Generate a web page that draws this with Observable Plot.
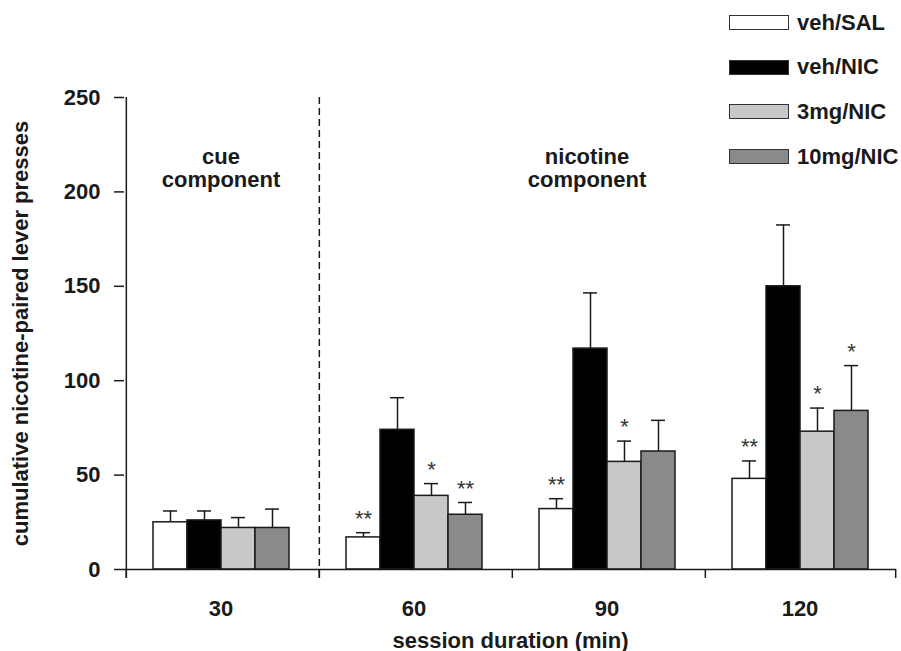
<!DOCTYPE html>
<html>
<head>
<meta charset="utf-8">
<script src="https://cdn.jsdelivr.net/npm/d3@7"></script>
<script src="https://cdn.jsdelivr.net/npm/@observablehq/plot@0.6"></script>
<style>
  body { margin: 0; background: #fff; }
  #wrap { position: relative; width: 901px; height: 651px; overflow: hidden; }
  .legend { position: absolute; left: 729px; top: 15px; font: bold 22px "Liberation Sans", Arial, sans-serif; color: #1a1a1a; }
  .legend .row { display: flex; align-items: center; height: 15px; margin-bottom: 29.7px; white-space: nowrap; }
  .legend .sw { width: 60px; height: 15px; box-sizing: border-box; border: 1.5px solid #333; margin-right: 8px; flex: none; }
</style>
</head>
<body>
<div id="wrap"></div>
<script>
// ---- data ----
const sessions = [30, 60, 90, 120];
const treatments = ["veh/SAL", "veh/NIC", "3mg/NIC", "10mg/NIC"];
const treatmentColors = ["#ffffff", "#000000", "#c8c8c8", "#8a8a8a"];

const vehSAL   = [25, 17, 32, 48];
const vehSALse = [6, 2.5, 5.5, 9.5];
const vehNIC   = [26, 74, 117, 150];
const vehNICse = [5, 17, 29.5, 32.5];
const nic3     = [22, 39, 57, 73];
const nic3se   = [5.5, 6.5, 11, 12.5];
const nic10    = [22, 29, 62.5, 84];
const nic10se  = [10, 6.5, 16.5, 24];

const sigSAL = ["", "**", "**", "**"];
const sigNIC = ["", "", "", ""];
const sig3   = ["", "*", "*", "*"];
const sig10  = ["", "**", "", "*"];

const yTicks = [0, 50, 100, 150, 200, 250];
const yLabel = "cumulative nicotine-paired lever presses";
const xLabel = "session duration (min)";
const sectionLabels = ["cue\ncomponent", "nicotine\ncomponent"];
const sectionSessions = [30, 90];

// ---- table for Plot ----
const seriesMeans = [vehSAL, vehNIC, nic3, nic10];
const seriesSE = [vehSALse, vehNICse, nic3se, nic10se];
const seriesSig = [sigSAL, sigNIC, sig3, sig10];
const rows = [];
sessions.forEach((s, i) => treatments.forEach((t, j) => rows.push({
  session: s, treatment: t, mean: seriesMeans[j][i], se: seriesSE[j][i], sig: seriesSig[j][i]
})));

// ---- layout ----
const W = 901, H = 651, mL = 123, mR = 4, mT = 97, mB = 82;
const po = 0.76;
const facetW = (W - mL - mR) / sessions.length;
const step = facetW / (treatments.length + 2 * po);
const edge = step / 2 + po * step;
const ink = "#1a1a1a";

const plot = Plot.plot({
  width: W, height: H,
  marginLeft: mL, marginRight: mR, marginTop: mT, marginBottom: mB,
  style: { fontFamily: '"Liberation Sans", Arial, sans-serif', fontSize: "22px", fontWeight: "bold", color: ink, background: "#fff" },
  fx: { domain: sessions, padding: 0 },
  x: { domain: treatments, paddingInner: 0, paddingOuter: po, axis: null },
  y: { domain: [0, 250] },
  color: { domain: treatments, range: treatmentColors },
  marks: [
    Plot.axisY({ ticks: yTicks, tickSize: 10, tickPadding: 14, stroke: ink, strokeWidth: 1.5,
      label: yLabel, labelAnchor: "center", labelArrow: "none", labelOffset: 112 }),
    Plot.axisFx({ anchor: "bottom", tickSize: 0, tickPadding: 31,
      label: xLabel, labelAnchor: "center", labelArrow: "none", labelOffset: 78 }),
    Plot.barY(rows, { fx: "session", x: "treatment", y: "mean", fill: "treatment", stroke: ink, strokeWidth: 1.5 }),
    Plot.ruleX(rows, { fx: "session", x: "treatment", y1: "mean", y2: d => d.mean + d.se, stroke: ink, strokeWidth: 1.5 }),
    Plot.tickY(rows, { fx: "session", x: "treatment", y: d => d.mean + d.se, stroke: ink, strokeWidth: 1.5, insetLeft: 10, insetRight: 10 }),
    Plot.text(rows.filter(d => d.sig), { fx: "session", x: "treatment", y: d => d.mean + d.se, text: "sig",
      dy: -14, fontSize: 22, fontWeight: "normal", fill: "#333" }),
    // x-axis line
    Plot.ruleY([0], { stroke: ink, strokeWidth: 1.5 }),
    // y-axis line (left edge of first facet)
    Plot.ruleX([{ session: sessions[0] }], { fx: "session", x: () => treatments[0], y1: 250, y2: 0,
      dx: -edge, insetBottom: -9, stroke: ink, strokeWidth: 1.5 }),
    // ticks at facet boundaries
    Plot.ruleX(sessions.map(s => ({ session: s })), { fx: "session", x: () => treatments[0], y1: 0, y2: 0,
      dx: -edge, insetBottom: -9, stroke: ink, strokeWidth: 1.5 }),
    Plot.ruleX([{ session: sessions[sessions.length - 1] }], { fx: "session", x: () => treatments[treatments.length - 1], y1: 0, y2: 0,
      dx: edge, insetBottom: -9, stroke: ink, strokeWidth: 1.5 }),
    // dashed separator between cue and nicotine components
    Plot.ruleX([{ session: sessions[1] }], { fx: "session", x: () => treatments[0], y1: 250, y2: 0,
      dx: -edge, insetBottom: -9, stroke: ink, strokeWidth: 1.5, strokeDasharray: "7,4" }),
    // component labels
    Plot.text([{ session: sectionSessions[0], label: sectionLabels[0] }], { fx: "session", text: "label",
      frameAnchor: "top", lineAnchor: "top", dy: 50, lineHeight: 1.05, fill: ink }),
    Plot.text([{ session: sectionSessions[1], label: sectionLabels[1] }], { fx: "session", text: "label",
      frameAnchor: "top", lineAnchor: "top", dy: 50, dx: -20, lineHeight: 1.05, fill: ink })
  ]
});

const wrap = document.getElementById("wrap");
wrap.appendChild(plot);

// legend
const legend = document.createElement("div");
legend.className = "legend";
treatments.forEach((t, j) => {
  const row = document.createElement("div");
  row.className = "row";
  const sw = document.createElement("span");
  sw.className = "sw";
  sw.style.background = treatmentColors[j];
  const lab = document.createElement("span");
  lab.textContent = t;
  row.appendChild(sw);
  row.appendChild(lab);
  legend.appendChild(row);
});
wrap.appendChild(legend);
</script>
</body>
</html>
